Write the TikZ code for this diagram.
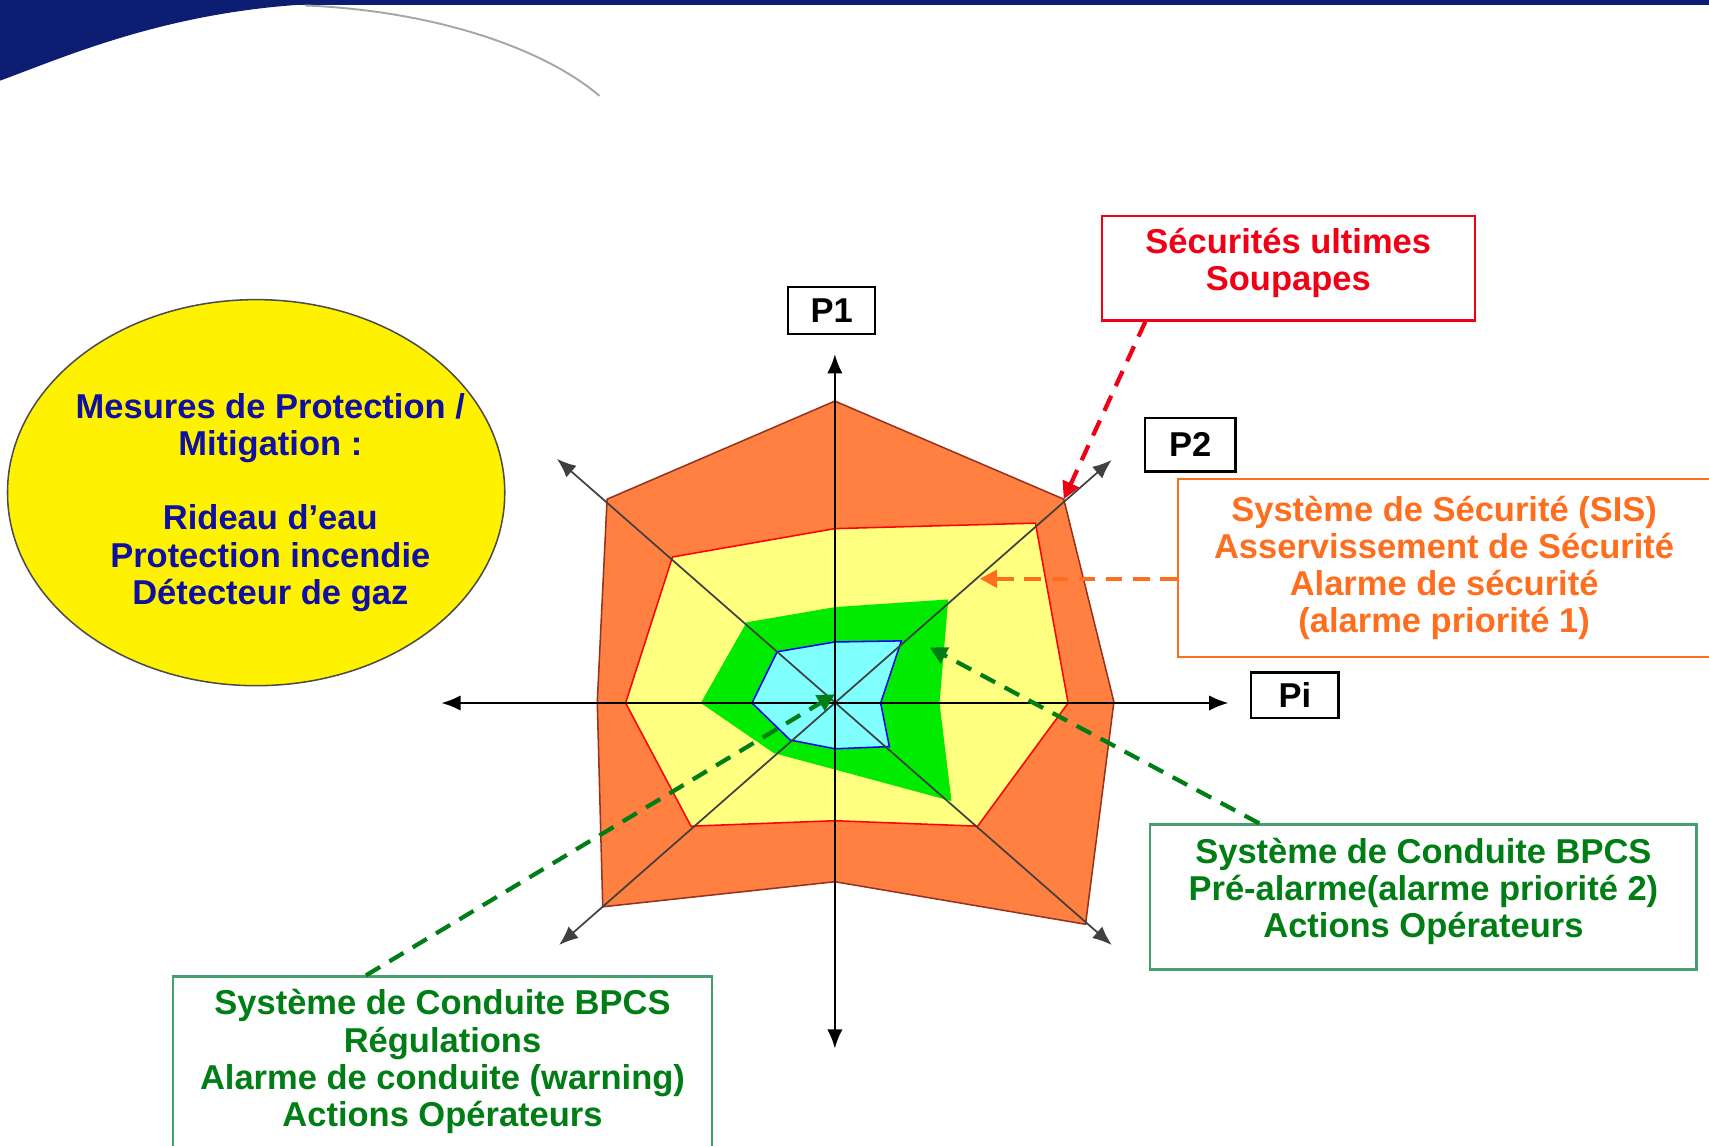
\documentclass[tikz,border=0pt]{standalone}
\usepackage{fontspec}
\setmainfont{Liberation Sans}
\usepackage{xcolor}
\definecolor{ColNavy}{RGB}{13,29,114}
\definecolor{ColOut}{RGB}{255,128,64}
\definecolor{ColOutLine}{RGB}{150,50,30}
\definecolor{ColMid}{RGB}{255,255,128}
\definecolor{ColIn}{RGB}{0,235,0}
\definecolor{ColCore}{RGB}{128,255,255}
\definecolor{ColRed}{RGB}{240,0,20}
\definecolor{ColOrange}{RGB}{255,110,30}
\definecolor{ColGreen}{RGB}{0,125,20}
\definecolor{ColBoxGreen}{RGB}{70,160,110}
\definecolor{ColBlue}{RGB}{15,15,160}
\usepackage{tikz}
\usetikzlibrary{shapes.geometric}
\usetikzlibrary{arrows.meta}
\usetikzlibrary{calc}
\tikzstyle{Txt}=[font=\fontsize{9}{9.7}\selectfont\bfseries,align=center,
inner sep=0pt]
\tikzstyle{Box}=[Txt,draw,line width=0.6pt]
\tikzstyle{PBox}=[Box,draw=black,text=black]
\tikzstyle{Axis}=[draw=black,line width=0.5pt,
{Latex[length=5pt,width=4pt]}-{Latex[length=5pt,width=4pt]}]
\tikzstyle{Diag}=[draw=black!75,line width=0.45pt,
{Latex[length=5pt,width=4pt]}-{Latex[length=5pt,width=4pt]}]
\tikzstyle{Link}=[line width=1.1pt,dash pattern=on 4.3pt off 2.8pt,
-{Triangle[length=4.5pt,width=4.5pt]}]
\tikzstyle{Outer}=[fill=ColOut,draw=ColOutLine,line width=0.4pt]
\tikzstyle{Mid}=[fill=ColMid,draw=red,line width=0.4pt]
\tikzstyle{Inner}=[fill=ColIn]
\tikzstyle{Core}=[fill=ColCore,draw=blue,line width=0.4pt]

\begin{document}
\begin{tikzpicture}[x=.01cm,y=-.01cm]
        \useasboundingbox (0,0) rectangle (1568,1051);
        \fill[ColNavy] (0,0) rectangle (1568,5);
        \fill[ColNavy] (0,4) -- (0,74) .. controls (60,52) and (150,12) .. (280,4) -- cycle;
        \draw[black!35,line width=0.5pt] (280,5) .. controls (400,10) and (500,45) .. (550,88);
        \node[ellipse,draw=black!70,fill=yellow,inner sep=0pt,
            minimum width=4.56cm,minimum height=3.54cm](Oval)at(235,452){};
        \node[Txt,text=ColBlue](Mit)at(248,461)
            {Mesures de Protection /\\Mitigation :\\[9.7pt]Rideau d’eau\\
            Protection incendie\\Détecteur de gaz};
        \draw[Outer](766,368)--(976,458)--(1022,644)--(996,848)--(766,809)
            --(553,832)--(548,644)--(557,458)--cycle;
        \draw[Mid](766,485)--(950,480)--(980,645)--(897,758)--(766,753)
            --(634,758)--(574,645)--(617,511)--cycle;
        \fill[Inner](766,557)--(870,550)--(862,645)--(873,735)--(766,706)
            --(710,691)--(643,645)--(685,571)--cycle;
        \draw[Core](766,589)--(827,588)--(808,645)--(816,685)--(766,687)
            --(725,679)--(690,645)--(713,598)--cycle;
        \coordinate(O)at(766,645);
        \coordinate(N)at(766,325);
        \coordinate(S)at(766,962);
        \coordinate(W)at(405,645);
        \coordinate(E)at(1127,645);
        \coordinate(NE)at(1020,422);
        \coordinate(NW)at(511,421);
        \coordinate(SW)at(513,867);
        \coordinate(SE)at(1020,867);
        \coordinate(oNE)at(976,458);
        \coordinate(tOr)at(899,531);
        \coordinate(tGr)at(853,594);
        \coordinate(tGl)at(766,637);
        \draw[Diag](SW)--(NE);
        \draw[Diag](SE)--(NW);
        \draw[Axis](S)--(N);
        \draw[Axis](W)--(E);
        \node[PBox,minimum width=0.80cm,minimum height=0.43cm](P1)at(763,285){P1};
        \node[PBox,minimum width=0.83cm,minimum height=0.49cm](P2)at(1092,408){P2};
        \node[PBox,minimum width=0.80cm,minimum height=0.42cm](Pi)at(1188,638){Pi};
        \node[Box,draw=ColRed,text=ColRed,minimum width=3.42cm,
            minimum height=0.96cm](Ult)at(1182,246){};
        \node[Txt,text=ColRed](UltT)at(1182,241){Sécurités ultimes\\Soupapes};
        \node[Box,draw=ColOrange,text=ColOrange,minimum width=4.88cm,
            minimum height=1.63cm](SIS)at(1325,521)
            {Système de Sécurité (SIS)\\Asservissement de Sécurité\\
            Alarme de sécurité\\(alarme priorité 1)};
        \node[Box,draw=ColBoxGreen,minimum width=5.01cm,
            minimum height=1.33cm](Pre)at(1306,823){};
        \node[Txt,text=ColGreen](PreT)at(1306,818)
            {Système de Conduite BPCS\\Pré-alarme(alarme priorité 2)\\
            Actions Opérateurs};
        \node[Box,draw=ColBoxGreen,minimum width=4.94cm,
            minimum height=1.66cm](Reg)at(406,979){};
        \node[Txt,text=ColGreen](RegT)at(406,974)
            {Système de Conduite BPCS\\Régulations\\
            Alarme de conduite (warning)\\Actions Opérateurs};
        \draw[Link,ColRed]($(Ult.south west)+(41,0)$)--(oNE);
        \draw[Link,ColOrange]($(SIS.west)+(0,10)$)--(tOr);
        \draw[Link,ColGreen]($(Pre.north west)+(101,0)$)--(tGr);
        \draw[Link,ColGreen]($(Reg.north west)+(178,0)$)--(tGl);
    \end{tikzpicture}
\end{document}
